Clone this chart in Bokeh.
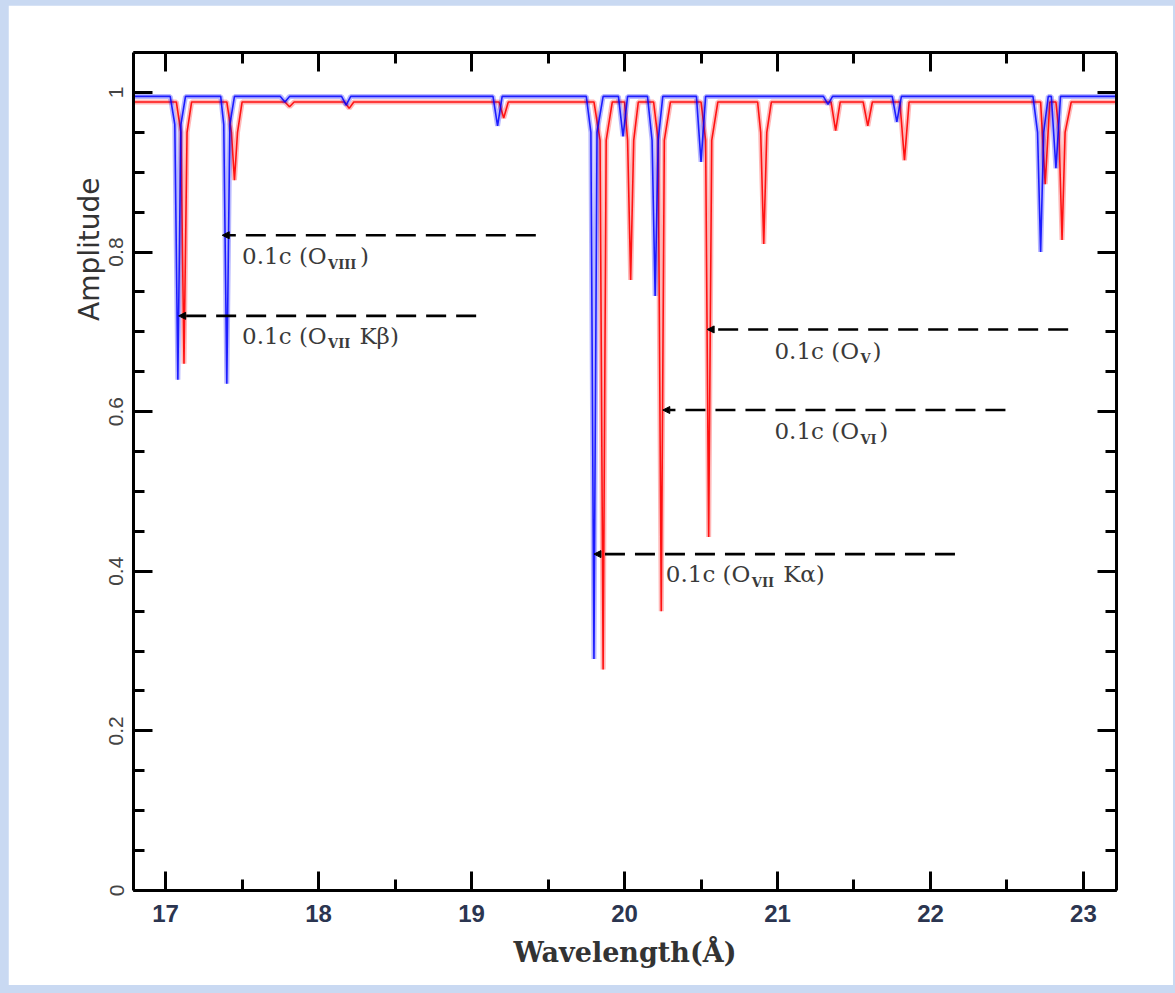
from bokeh.plotting import figure
from bokeh.models import (SingleIntervalTicker, LinearAxis, Arrow, NormalHead,
                          ColumnDataSource, CustomJSTickFormatter, Range1d)
from bokeh.layouts import column
from bokeh.core.properties import value
from bokeh.embed import file_html
from bokeh.resources import INLINE

# ---------------- data ----------------
blue_wavelength = [16.79, 17.03, 17.06, 17.08, 17.10, 17.13, 17.36, 17.38, 17.40, 17.42, 17.45,
                   17.75, 17.78, 17.81, 18.15, 18.18, 18.21, 19.14, 19.17, 19.20,
                   19.75, 19.78, 19.80, 19.82, 19.86, 19.96, 19.99, 20.02,
                   20.15, 20.18, 20.20, 20.22, 20.25, 20.47, 20.50, 20.53,
                   21.30, 21.33, 21.36, 21.75, 21.78, 21.81,
                   22.67, 22.70, 22.72, 22.74, 22.77, 22.79, 22.82, 22.85, 23.216]
blue_amplitude = [0.995, 0.995, 0.96, 0.64, 0.96, 0.995, 0.995, 0.96, 0.635, 0.96, 0.995,
                  0.995, 0.988, 0.995, 0.995, 0.984, 0.995, 0.995, 0.958, 0.995,
                  0.995, 0.95, 0.29, 0.95, 0.995, 0.995, 0.945, 0.995,
                  0.995, 0.94, 0.745, 0.94, 0.995, 0.995, 0.913, 0.995,
                  0.995, 0.985, 0.995, 0.995, 0.963, 0.995,
                  0.995, 0.95, 0.80, 0.95, 0.995, 0.995, 0.905, 0.995, 0.995]

red_wavelength = [16.79, 17.07, 17.10, 17.12, 17.14, 17.17, 17.40, 17.43, 17.45, 17.47, 17.50,
                  17.78, 17.81, 17.84, 18.17, 18.20, 18.23, 19.18, 19.21, 19.24,
                  19.80, 19.84, 19.86, 19.88, 19.92, 20.00, 20.02, 20.04, 20.06, 20.09,
                  20.19, 20.22, 20.24, 20.26, 20.30, 20.50, 20.53, 20.55, 20.57, 20.61,
                  20.87, 20.89, 20.91, 20.93, 20.96, 21.35, 21.38, 21.41,
                  21.56, 21.59, 21.62, 21.80, 21.83, 21.86,
                  22.72, 22.75, 22.78, 22.82, 22.84, 22.86, 22.88, 22.92, 23.216]
red_amplitude = [0.988, 0.988, 0.95, 0.66, 0.95, 0.988, 0.988, 0.95, 0.89, 0.95, 0.988,
                 0.988, 0.982, 0.988, 0.988, 0.98, 0.988, 0.988, 0.968, 0.988,
                 0.988, 0.94, 0.277, 0.94, 0.988, 0.988, 0.94, 0.765, 0.94, 0.988,
                 0.988, 0.94, 0.35, 0.94, 0.988, 0.988, 0.94, 0.443, 0.94, 0.988,
                 0.988, 0.95, 0.81, 0.95, 0.988, 0.988, 0.952, 0.988,
                 0.988, 0.958, 0.988, 0.988, 0.915, 0.988,
                 0.988, 0.885, 0.988, 0.988, 0.95, 0.815, 0.95, 0.988, 0.988]

# dashed marker lines (arrow tip at left end)
marker_y = [0.821, 0.72, 0.703, 0.602, 0.4215]
marker_x_tip = [17.37, 17.085, 20.54, 20.25, 19.80]
marker_x_end = [19.42, 19.03, 22.90, 22.49, 22.16]

# annotation labels
label_x = [17.50, 17.50, 20.98, 20.98, 20.27]
label_y = [0.795, 0.695, 0.676, 0.5755, 0.396]
label_prefix = ["0.1c (O", "0.1c (O", "0.1c (O", "0.1c (O", "0.1c (O"]
label_sub = ["VIII", "VII", "V", "VI", "VII"]
label_suffix = [")", " Kβ)", ")", ")", " Kα)"]

x_ticks_interval = 1
y_ticks_interval = 0.2

# ---------------- figure ----------------
p = figure(width=1165, height=980, output_backend="svg", toolbar_location=None,
           x_range=Range1d(16.79, 23.216), y_range=Range1d(0, 1.05),
           title="Amplitude", title_location="left",
           min_border_left=125, min_border_right=57, min_border_top=47, min_border_bottom=95,
           background_fill_color="white", border_fill_color="white",
           outline_line_color=None)
p.margin = (5, 2, 8, 8)
p.grid.visible = False

# y-axis title placed high on the left, as in the original
p.title.align = "right"
p.title.offset = 125
p.title.standoff = 2
p.title.text_font = "DejaVu Sans"
p.title.text_font_size = "28px"
p.title.text_font_style = "normal"
p.title.text_color = "#333333"

xt = SingleIntervalTicker(interval=x_ticks_interval, num_minor_ticks=2)
yt = SingleIntervalTicker(interval=y_ticks_interval, num_minor_ticks=4)
yfmt = CustomJSTickFormatter(code="return tick.toFixed(1).replace(/\\.0$/, '');")
blank = CustomJSTickFormatter(code="return '';")


def style_axis(ax, ticker):
    ax.ticker = ticker
    ax.axis_line_width = 3
    ax.axis_line_color = "black"
    ax.major_tick_in = 19
    ax.major_tick_out = 0
    ax.minor_tick_in = 11
    ax.minor_tick_out = 0
    ax.major_tick_line_width = 3
    ax.minor_tick_line_width = 3
    ax.major_tick_line_color = "black"
    ax.minor_tick_line_color = "black"


xa = p.xaxis[0]
style_axis(xa, xt)
xa.major_label_text_font = "Liberation Sans"
xa.major_label_text_font_style = "bold"
xa.major_label_text_font_size = "24px"
xa.major_label_text_color = "#2b3550"
xa.major_label_standoff = 14
xa.axis_label = "Wavelength(Å)"
xa.axis_label_text_font = "DejaVu Serif"
xa.axis_label_text_font_style = "bold"
xa.axis_label_text_font_size = "27px"
xa.axis_label_text_color = "#333333"
xa.axis_label_standoff = 12

ya = p.yaxis[0]
style_axis(ya, yt)
ya.formatter = yfmt
ya.major_label_orientation = "vertical"
ya.major_label_text_font = "Liberation Sans"
ya.major_label_text_font_size = "21px"
ya.major_label_text_color = "#444444"
ya.major_label_standoff = 10

top = LinearAxis(formatter=blank)
style_axis(top, SingleIntervalTicker(interval=x_ticks_interval, num_minor_ticks=2))
top.major_label_text_font_size = "1px"
p.add_layout(top, "above")
right = LinearAxis(formatter=blank)
style_axis(right, SingleIntervalTicker(interval=y_ticks_interval, num_minor_ticks=4))
right.major_label_text_font_size = "1px"
p.add_layout(right, "right")

# spectra: soft halo + core
p.line(red_wavelength, red_amplitude, line_color="#ff0000", line_width=5, line_alpha=0.28)
p.line(red_wavelength, red_amplitude, line_color="#ff0000", line_width=1.6, line_alpha=0.9)
p.line(blue_wavelength, blue_amplitude, line_color="#0000ff", line_width=5, line_alpha=0.28)
p.line(blue_wavelength, blue_amplitude, line_color="#0000ff", line_width=1.6, line_alpha=0.85)

# dashed marker arrows
msrc = ColumnDataSource(dict(x0=marker_x_tip, x1=marker_x_end, y=marker_y))
p.add_layout(Arrow(end=NormalHead(size=7, fill_color="black", line_color="black", line_width=1),
                   x_start="x1", y_start="y", x_end="x0", y_end="y", source=msrc,
                   line_color="black", line_width=2.6, line_dash="20 10"))

# labels with subscripts (offsets in screen pixels)
pre_w = 86
sub_char = {"V": 10.1, "I": 6.6}
sub_offsets = [pre_w for _ in label_sub]
suf_offsets = [pre_w + sum(sub_char[c] for c in s) + (8 if suf.startswith(" ") else 2)
               for s, suf in zip(label_sub, label_suffix)]
lsrc = ColumnDataSource(dict(x=label_x, y=label_y, pre=label_prefix, sub=label_sub, suf=label_suffix,
                             so=sub_offsets, fo=suf_offsets))
p.text(x="x", y="y", text="pre", source=lsrc, text_font=value("DejaVu Serif"),
       text_font_size="23px", text_color="#3a3a3a", text_baseline="middle", text_align="left")
p.text(x="x", y="y", text="sub", source=lsrc, x_offset="so", y_offset=8, text_font=value("DejaVu Serif"),
       text_font_size="13px", text_font_style="bold", text_color="#3a3a3a", text_baseline="middle",
       text_align="left")
p.text(x="x", y="y", text="suf", source=lsrc, x_offset="fo", text_font=value("DejaVu Serif"),
       text_font_size="23px", text_color="#3a3a3a", text_baseline="middle", text_align="left")

layout = column(p, width=1175, height=993, styles={"background-color": "#c9d9f2"})

open("out.html", "w").write(file_html(layout, INLINE))
